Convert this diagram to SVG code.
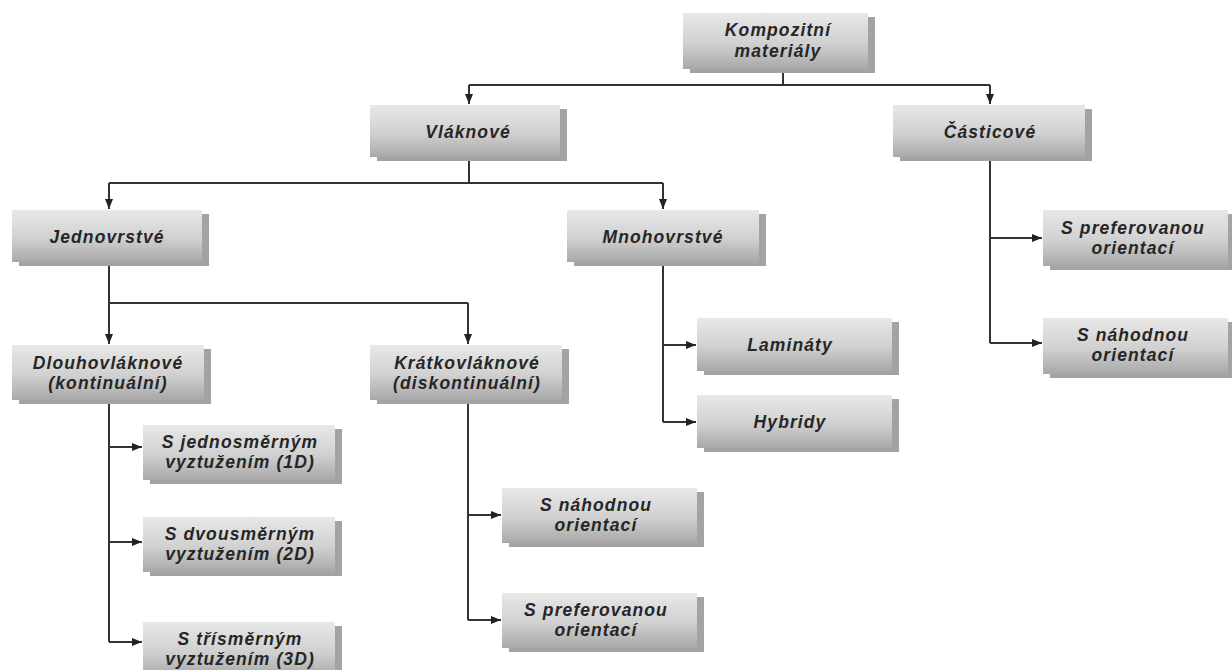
<svg xmlns="http://www.w3.org/2000/svg" width="1232" height="670" viewBox="0 0 1232 670">
<defs>
<linearGradient id="g" x1="0" y1="0" x2="0" y2="1">
<stop offset="0" stop-color="#e8e8e8"/>
<stop offset="0.55" stop-color="#d0d0d0"/>
<stop offset="1" stop-color="#a8a8a8"/>
</linearGradient>
<marker id="arr" viewBox="0 0 10 10" refX="10" refY="5" markerWidth="10" markerHeight="10" markerUnits="userSpaceOnUse" orient="auto">
<path d="M0,1 L10,5 L0,9 Z" fill="#222"/>
</marker>
<style>
.sh{fill:#a3a3a3}
.bx{fill:url(#g)}
.t{font-family:"Liberation Sans",Arial,sans-serif;font-size:17.5px;font-weight:bold;font-style:italic;fill:#262626;text-anchor:middle;letter-spacing:1.1px}
.c{fill:none;stroke:#333;stroke-width:2}
.a{fill:none;stroke:#333;stroke-width:2;marker-end:url(#arr)}
</style>
</defs>
<rect width="1232" height="670" fill="#fff"/>
<g id="connectors">
<path class="c" d="M783,72 V85 M469,85 H990"/>
<path class="a" d="M469,85 V104"/>
<path class="a" d="M990,85 V104"/>
<path class="c" d="M469,160 V183 M109,183 H663"/>
<path class="a" d="M109,183 V209"/>
<path class="a" d="M663,183 V209"/>
<path class="c" d="M990,160 V343"/>
<path class="a" d="M990,238 H1042"/>
<path class="a" d="M990,343 H1042"/>
<path class="c" d="M109,265 V303 M109,303 H468"/>
<path class="a" d="M109,303 V344"/>
<path class="a" d="M468,303 V344"/>
<path class="c" d="M663,265 V422"/>
<path class="a" d="M663,345 H696"/>
<path class="a" d="M663,422 H696"/>
<path class="c" d="M109,402 V642"/>
<path class="a" d="M109,447 H142"/>
<path class="a" d="M109,542 H142"/>
<path class="a" d="M109,642 H142"/>
<path class="c" d="M468,402 V620"/>
<path class="a" d="M468,515 H501"/>
<path class="a" d="M468,620 H501"/>
</g>
<g id="n-kompozitni"><rect class="sh" x="690" y="17" width="185" height="56"/><rect class="bx" x="683" y="13" width="185" height="56"/><text class="t" x="778" y="36">Kompozitní</text><text class="t" x="778" y="57">materiály</text></g>
<g id="n-vlaknove"><rect class="sh" x="377" y="109" width="190" height="52"/><rect class="bx" x="370" y="105" width="190" height="52"/><text class="t" x="468" y="138">Vláknové</text></g>
<g id="n-casticove"><rect class="sh" x="900" y="109" width="192" height="52"/><rect class="bx" x="893" y="105" width="192" height="52"/><text class="t" x="990" y="138">Částicové</text></g>
<g id="n-jednovrstve"><rect class="sh" x="19" y="214" width="190" height="52"/><rect class="bx" x="12" y="210" width="190" height="52"/><text class="t" x="107" y="243">Jednovrstvé</text></g>
<g id="n-mnohovrstve"><rect class="sh" x="574" y="214" width="192" height="52"/><rect class="bx" x="567" y="210" width="192" height="52"/><text class="t" x="663" y="243">Mnohovrstvé</text></g>
<g id="n-dlouho"><rect class="sh" x="19" y="349" width="192" height="55"/><rect class="bx" x="12" y="345" width="192" height="55"/><text class="t" x="108" y="369">Dlouhovláknové</text><text class="t" x="108" y="389">(kontinuální)</text></g>
<g id="n-kratko"><rect class="sh" x="377" y="349" width="192" height="55"/><rect class="bx" x="370" y="345" width="192" height="55"/><text class="t" x="467" y="369">Krátkovláknové</text><text class="t" x="467" y="389">(diskontinuální)</text></g>
<g id="n-1d"><rect class="sh" x="150" y="429" width="192" height="55"/><rect class="bx" x="143" y="425" width="192" height="55"/><text class="t" x="240" y="448">S jednosměrným</text><text class="t" x="240" y="468">vyztužením (1D)</text></g>
<g id="n-2d"><rect class="sh" x="150" y="521" width="192" height="55"/><rect class="bx" x="143" y="517" width="192" height="55"/><text class="t" x="240" y="540">S dvousměrným</text><text class="t" x="240" y="560">vyztužením (2D)</text></g>
<g id="n-3d"><rect class="sh" x="150" y="626" width="192" height="55"/><rect class="bx" x="143" y="622" width="192" height="55"/><text class="t" x="240" y="645">S třísměrným</text><text class="t" x="240" y="665">vyztužením (3D)</text></g>
<g id="n-k-nahodnou"><rect class="sh" x="509" y="492" width="195" height="55"/><rect class="bx" x="502" y="488" width="195" height="55"/><text class="t" x="596" y="511">S náhodnou</text><text class="t" x="596" y="531">orientací</text></g>
<g id="n-k-preferovanou"><rect class="sh" x="509" y="597" width="195" height="55"/><rect class="bx" x="502" y="593" width="195" height="55"/><text class="t" x="596" y="616">S preferovanou</text><text class="t" x="596" y="636">orientací</text></g>
<g id="n-laminaty"><rect class="sh" x="704" y="322" width="195" height="53"/><rect class="bx" x="697" y="318" width="195" height="53"/><text class="t" x="790" y="351">Lamináty</text></g>
<g id="n-hybridy"><rect class="sh" x="704" y="399" width="195" height="53"/><rect class="bx" x="697" y="395" width="195" height="53"/><text class="t" x="790" y="428">Hybridy</text></g>
<g id="n-c-preferovanou"><rect class="sh" x="1050" y="214" width="185" height="56"/><rect class="bx" x="1043" y="210" width="185" height="56"/><text class="t" x="1133" y="234">S preferovanou</text><text class="t" x="1133" y="254">orientací</text></g>
<g id="n-c-nahodnou"><rect class="sh" x="1050" y="322" width="185" height="56"/><rect class="bx" x="1043" y="318" width="185" height="56"/><text class="t" x="1133" y="341">S náhodnou</text><text class="t" x="1133" y="361">orientací</text></g>
</svg>
